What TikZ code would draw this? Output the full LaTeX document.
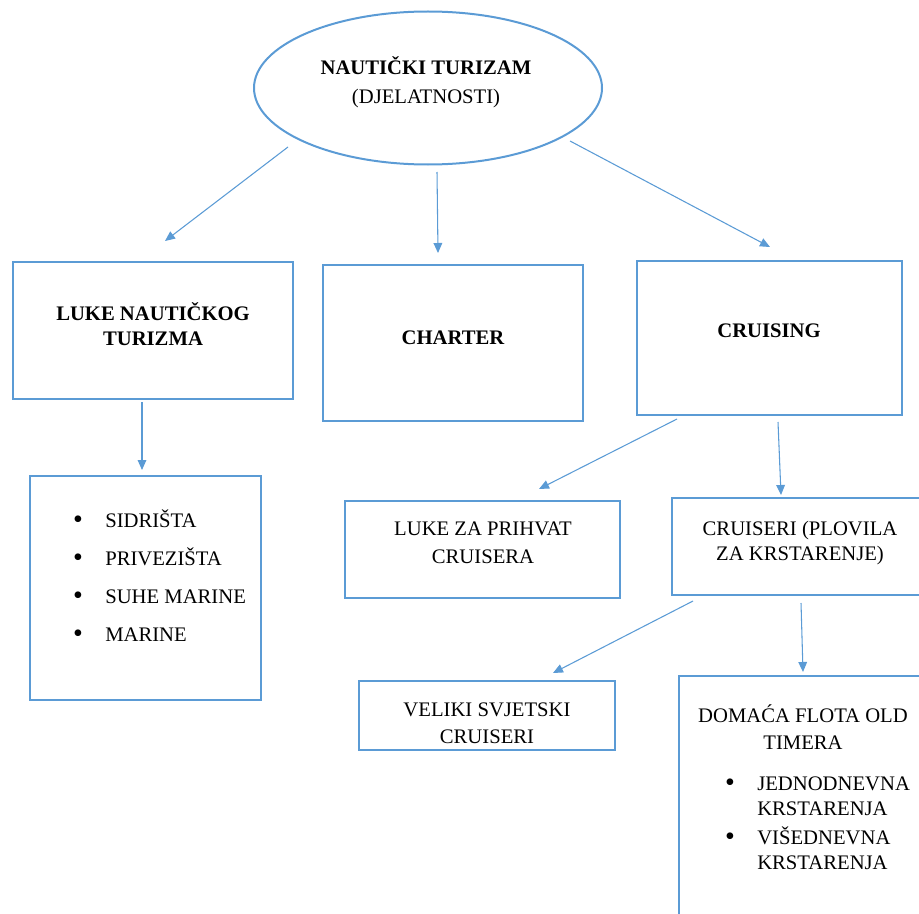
\documentclass[tikz,border=0pt]{standalone}
\usepackage{fontspec}
\setmainfont{Liberation Serif}
\usetikzlibrary{arrows.meta,fit,shapes.geometric}
\definecolor{ob}{HTML}{5B9BD5}
\begin{document}
\begin{tikzpicture}[x=0.75pt,y=-0.75pt,
  box/.style={draw=ob,line width=1.5pt,inner sep=0pt,rectangle},
  conn/.style={draw=ob,line width=0.8pt,-{Triangle[length=7.5pt,width=6.5pt]}},
  txt/.style={anchor=base,inner sep=0pt,font=\fontsize{15.5}{18}\selectfont},
  txtb/.style={txt,font=\fontsize{15.5}{18}\selectfont\bfseries},
  txtl/.style={txt,anchor=base west},
  bul/.style={txt,font=\fontsize{21}{21}\selectfont}]
\useasboundingbox (0,0) rectangle (919,913);
\clip (0,0) rectangle (919,913);

% root ellipse
\node[ellipse,draw=ob,line width=1.5pt,minimum width=261pt,minimum height=114.75pt,inner sep=0pt] (root) at (428,88) {};
\node[txtb] (rt1) at (426,75) {NAUTIČKI TURIZAM};
\node[txt]  (rt2) at (426,104) {(DJELATNOSTI)};

% level 1 boxes
\node[box,fit={(13,262) (293,399)}] (luke) {};
\node[txtb] (lk1) at (153,320) {LUKE NAUTIČKOG};
\node[txtb] (lk2) at (153,345) {TURIZMA};

\node[box,fit={(323,265) (583,421)}] (charter) {};
\node[txtb] (ch1) at (453,344) {CHARTER};

\node[box,fit={(637,261) (902,415)}] (cruising) {};
\node[txtb] (cr1) at (769,337) {CRUISING};

% ports list
\node[box,fit={(30,476) (261,700)}] (list) {};
\foreach \y/\t [count=\i] in {527/SIDRIŠTA,565/PRIVEZIŠTA,603/SUHE MARINE,641/MARINE}{
  \node[bul] (lb\i) at (78,\y+1) {\textbullet};
  \node[txtl] (lt\i) at (105,\y) {\t};
}

% cruising children
\node[box,fit={(345,501) (620,598)}] (prihvat) {};
\node[txt] (pr1) at (483,535) {LUKE ZA PRIHVAT};
\node[txt] (pr2) at (483,563) {CRUISERA};

\node[box,fit={(672,498) (928,595)}] (cruiseri) {};
\node[txt] (cs1) at (800,535) {CRUISERI (PLOVILA};
\node[txt] (cs2) at (800,560) {ZA KRSTARENJE)};

\node[box,fit={(359,681) (615,750)}] (veliki) {};
\node[txt] (vs1) at (487,716) {VELIKI SVJETSKI};
\node[txt] (vs2) at (487,743) {CRUISERI};

\node[box,fit={(679,676) (927,930)}] (domaca) {};
\node[txt] (dm1) at (803,722) {DOMAĆA FLOTA OLD};
\node[txt] (dm2) at (803,749) {TIMERA};
\node[bul] (db1) at (730,791) {\textbullet};
\node[txtl] (dt1) at (757,790) {JEDNODNEVNA};
\node[txtl] (dt2) at (757,815) {KRSTARENJA};
\node[bul] (db2) at (730,845) {\textbullet};
\node[txtl] (dt3) at (757,844) {VIŠEDNEVNA};
\node[txtl] (dt4) at (757,869) {KRSTARENJA};

% connector end points
\coordinate (a1s) at (288,147); \coordinate (a1e) at (165,241);
\coordinate (a2s) at (437,172); \coordinate (a2e) at (438,253);
\coordinate (a3s) at (570,141); \coordinate (a3e) at (770,247);
\coordinate (a4s) at (142,402); \coordinate (a4e) at (142,470);
\coordinate (a5s) at (677,419); \coordinate (a5e) at (539,489);
\coordinate (a6s) at (778,422); \coordinate (a6e) at (781,495);
\coordinate (a7s) at (693,601); \coordinate (a7e) at (553,673);
\coordinate (a8s) at (801,603); \coordinate (a8e) at (803,672);

\foreach \i in {1,...,8}{ \draw[conn] (a\i s) -- (a\i e); }
\end{tikzpicture}
\end{document}
